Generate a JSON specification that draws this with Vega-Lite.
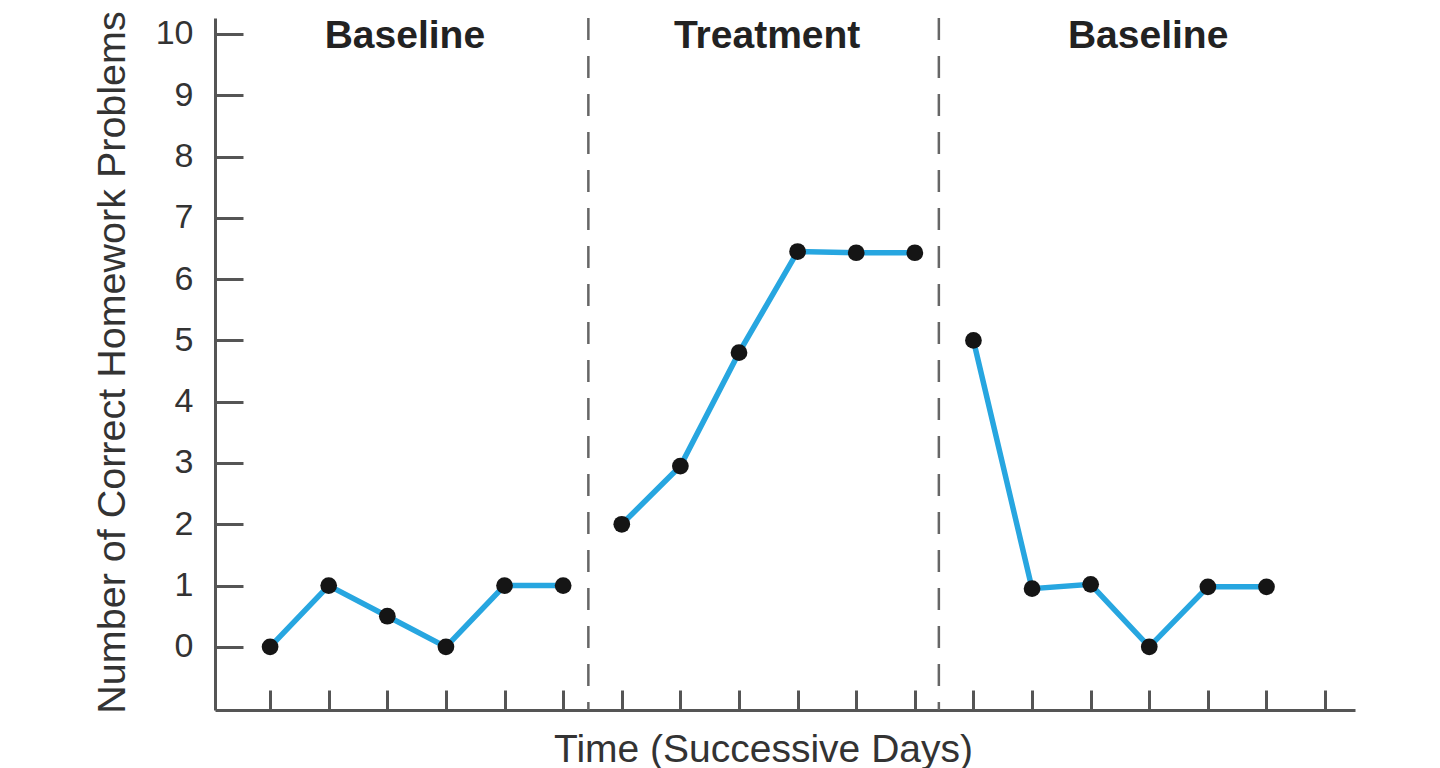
{
  "$schema": "https://vega.github.io/schema/vega-lite/v6.json",
  "autosize": {"type": "none"},
  "padding": {"left": 215, "top": 18, "right": 85, "bottom": 58},
  "width": 1140,
  "height": 692,
  "background": "white",
  "datasets": {
    "points": [
      {"phase": "Baseline 1", "day": 1, "value": 0},
      {"phase": "Baseline 1", "day": 2, "value": 1},
      {"phase": "Baseline 1", "day": 3, "value": 0.5},
      {"phase": "Baseline 1", "day": 4, "value": 0},
      {"phase": "Baseline 1", "day": 5, "value": 1},
      {"phase": "Baseline 1", "day": 6, "value": 1},
      {"phase": "Treatment", "day": 7, "value": 2},
      {"phase": "Treatment", "day": 8, "value": 2.95},
      {"phase": "Treatment", "day": 9, "value": 4.8},
      {"phase": "Treatment", "day": 10, "value": 6.45},
      {"phase": "Treatment", "day": 11, "value": 6.43},
      {"phase": "Treatment", "day": 12, "value": 6.43},
      {"phase": "Baseline 2", "day": 13, "value": 5},
      {"phase": "Baseline 2", "day": 14, "value": 0.95},
      {"phase": "Baseline 2", "day": 15, "value": 1.02},
      {"phase": "Baseline 2", "day": 16, "value": 0},
      {"phase": "Baseline 2", "day": 17, "value": 0.98},
      {"phase": "Baseline 2", "day": 18, "value": 0.98}
    ],
    "dividers": [
      {"day": 6.43},
      {"day": 12.41}
    ],
    "labels": [
      {"label": "Baseline", "day": 3.3, "value": 10},
      {"label": "Treatment", "day": 9.48, "value": 10},
      {"label": "Baseline", "day": 15.98, "value": 10}
    ]
  },
  "config": {
    "view": {"stroke": null},
    "font": "Liberation Sans"
  },
  "layer": [
    {
      "data": {"name": "dividers"},
      "mark": {"type": "rule", "color": "#666666", "strokeWidth": 2.5, "strokeDash": [22, 16]},
      "encoding": {
        "x": {"field": "day", "type": "quantitative"}
      }
    },
    {
      "data": {"name": "points"},
      "mark": {"type": "line", "color": "#27a6e0", "strokeWidth": 5.5},
      "encoding": {
        "x": {
          "field": "day",
          "type": "quantitative",
          "scale": {"domain": [0.06, 19.51], "nice": false, "zero": false},
          "axis": {
            "values": [1, 2, 3, 4, 5, 6, 7, 8, 9, 10, 11, 12, 13, 14, 15, 16, 17, 18, 19],
            "labels": false,
            "grid": false,
            "tickSize": -20,
            "tickWidth": 3,
            "tickColor": "#555555",
            "domainColor": "#555555",
            "domainWidth": 3,
            "title": "Time (Successive Days)",
            "titleFont": "Liberation Sans",
            "titleFontSize": 39,
            "titleFontWeight": "normal",
            "titleColor": "#333333",
            "titleX": 548,
            "titleY": 20,
            "titleAlign": "center",
            "titleBaseline": "top"
          }
        },
        "y": {
          "field": "value",
          "type": "quantitative",
          "scale": {"domain": [-1.03, 10.26], "nice": false, "zero": false},
          "axis": {
            "values": [0, 1, 2, 3, 4, 5, 6, 7, 8, 9, 10],
            "format": "d",
            "grid": false,
            "tickSize": -28,
            "tickWidth": 3,
            "tickColor": "#555555",
            "domainColor": "#555555",
            "domainWidth": 3,
            "labelFont": "Liberation Sans",
            "labelFontSize": 34,
            "labelColor": "#333333",
            "labelPadding": 50,
            "title": "Number of Correct Homework Problems",
            "titleFont": "Liberation Sans",
            "titleFontSize": 39.5,
            "titleFontWeight": "normal",
            "titleColor": "#333333",
            "titleAngle": -90,
            "titleX": -103,
            "titleY": 344,
            "titleAlign": "center",
            "titleBaseline": "middle"
          }
        },
        "detail": {"field": "phase", "type": "nominal"}
      }
    },
    {
      "data": {"name": "points"},
      "mark": {"type": "circle", "color": "#151515", "opacity": 1, "size": 280},
      "encoding": {
        "x": {"field": "day", "type": "quantitative"},
        "y": {"field": "value", "type": "quantitative"}
      }
    },
    {
      "data": {"name": "labels"},
      "mark": {"type": "text", "font": "Liberation Sans", "fontWeight": "bold", "fontSize": 39, "color": "#222222", "align": "center", "baseline": "middle", "dy": 2},
      "encoding": {
        "x": {"field": "day", "type": "quantitative"},
        "y": {"field": "value", "type": "quantitative"},
        "text": {"field": "label", "type": "nominal"}
      }
    }
  ]
}
